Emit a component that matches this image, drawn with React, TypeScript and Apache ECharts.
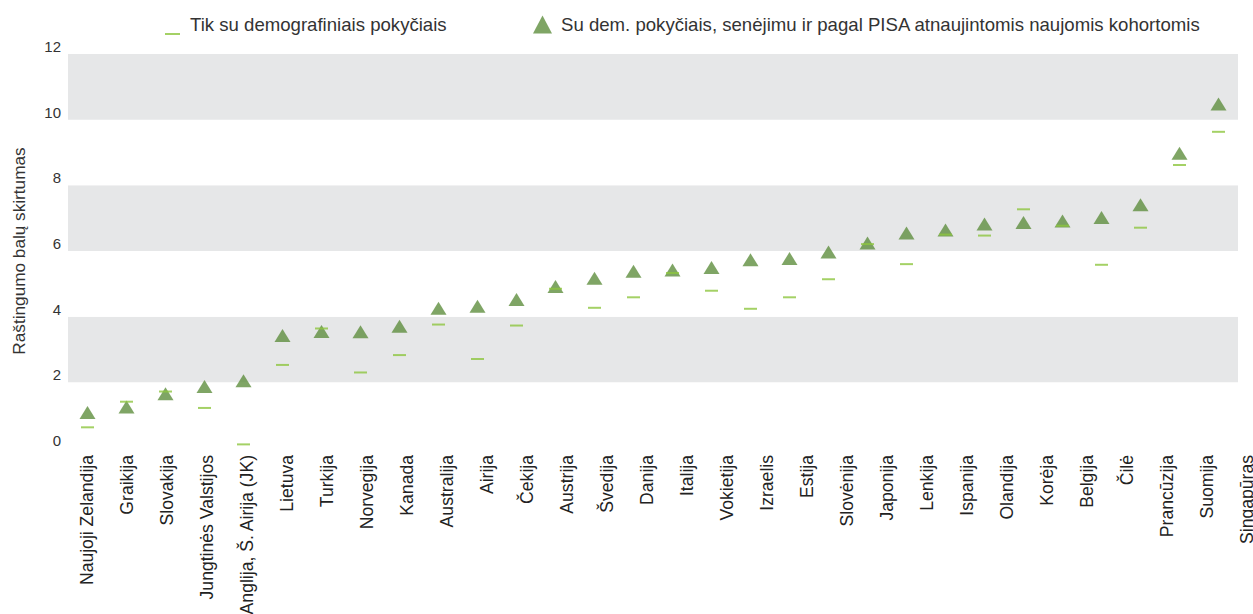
import React, { useEffect, useRef } from "react";
import * as echarts from "echarts";

const categories = [
  "Naujoji Zelandija",
  "Graikija",
  "Slovakija",
  "Jungtinės Valstijos",
  "Anglija, Š. Airija (JK)",
  "Lietuva",
  "Turkija",
  "Norvegija",
  "Kanada",
  "Australija",
  "Airija",
  "Čekija",
  "Austrija",
  "Švedija",
  "Danija",
  "Italija",
  "Vokietija",
  "Izraelis",
  "Estija",
  "Slovėnija",
  "Japonija",
  "Lenkija",
  "Ispanija",
  "Olandija",
  "Korėja",
  "Belgija",
  "Čilė",
  "Prancūzija",
  "Suomija",
  "Singapūras",
];

// "Su dem. pokyčiais, senėjimu ir pagal PISA atnaujintomis naujomis kohortomis"
const fullModel = [
  1.08, 1.25, 1.65, 1.87, 2.05, 3.43, 3.55, 3.54, 3.71, 4.26, 4.32, 4.52, 4.92,
  5.17, 5.38, 5.42, 5.5, 5.73, 5.77, 5.97, 6.24, 6.55, 6.64, 6.82, 6.87, 6.91,
  7.02, 7.41, 8.98, 10.48,
];

// "Tik su demografiniais pokyčiais"
const demographicOnly = [
  0.63, 1.41, 1.72, 1.22, 0.11, 2.53, 3.64, 2.3, 2.83, 3.76, 2.71, 3.73, 4.85,
  4.27, 4.59, 5.33, 4.79, 4.24, 4.59, 5.14, 6.21, 5.6, 6.5, 6.47, 7.27, 6.77,
  5.58, 6.71, 8.62, 9.63,
];

const yMin = 0;
const yMax = 12;
const yInterval = 2;

const nameDemo = "Tik su demografiniais pokyčiais";
const nameFull =
  "Su dem. pokyčiais, senėjimu ir pagal PISA atnaujintomis naujomis kohortomis";

const FONT = "'Liberation Sans', Arial, sans-serif";

export default function App() {
  const ref = useRef<HTMLDivElement>(null);

  useEffect(() => {
    document.body.style.margin = "0";
    if (!ref.current) return;
    const chart = echarts.init(ref.current, undefined, { renderer: "svg" });
    chart.setOption({
      animation: false,
      backgroundColor: "#ffffff",
      textStyle: { fontFamily: FONT },
      grid: [
        { left: 68, right: 15, top: 54, bottom: 166, containLabel: false, outerBoundsMode: "none" },
        { left: 67, width: 1200, top: 54, bottom: 166, containLabel: false, outerBoundsMode: "none" },
      ],
      legend: [
        {
          data: [nameDemo],
          left: 165,
          top: 14,
          padding: 0,
          itemWidth: 15,
          itemHeight: 21,
          icon: "path://M0,0L15,0L15,0L0,0ZM0,19L15,19L15,21L0,21Z",
          textStyle: { fontSize: 18.6, color: "#333", fontFamily: FONT, padding: [0, 0, 0, 5] },
          selectedMode: false,
        },
        {
          data: [nameFull],
          left: 533,
          top: 15,
          padding: 0,
          itemWidth: 19,
          itemHeight: 18,
          icon: "triangle",
          textStyle: { fontSize: 18.6, color: "#333", fontFamily: FONT, padding: [0, 0, 0, 4] },
          selectedMode: false,
        },
      ],
      xAxis: [
        {
          type: "category",
          gridIndex: 0,
          data: categories,
          boundaryGap: true,
          axisLine: { show: false },
          axisTick: { show: false },
          splitLine: { show: false },
          axisLabel: { show: false },
        },
        {
          type: "category",
          gridIndex: 1,
          data: categories,
          boundaryGap: true,
          axisLine: { show: false },
          axisTick: { show: false },
          splitLine: { show: false },
          axisLabel: {
            rotate: 90,
            interval: 0,
            margin: 7,
            fontSize: 17.6,
            color: "#222",
            fontFamily: FONT,
          },
        },
      ],
      yAxis: [
        {
          type: "value",
          gridIndex: 0,
          min: yMin,
          max: yMax,
          interval: yInterval,
          name: "Raštingumo balų skirtumas",
          nameLocation: "middle",
          nameGap: 41,
          nameTextStyle: { fontSize: 17.2, color: "#333", fontFamily: FONT },
          axisLine: { show: false },
          axisTick: { show: false },
          splitLine: { show: false },
          splitArea: {
            show: true,
            areaStyle: { color: ["#ffffff", "#e6e7e8"] },
          },
          axisLabel: {
            fontSize: 15,
            color: "#333",
            margin: 7,
            verticalAlign: "bottom",
            fontFamily: FONT,
          },
        },
        {
          type: "value",
          gridIndex: 1,
          min: yMin,
          max: yMax,
          interval: yInterval,
          show: false,
          splitLine: { show: false },
          splitArea: { show: false },
        },
      ],
      series: [
        {
          name: nameFull,
          type: "scatter",
          xAxisIndex: 0,
          yAxisIndex: 0,
          data: fullModel,
          symbol: "triangle",
          symbolSize: [16, 13],
          itemStyle: { color: "#5f8f3f" },
          z: 2,
        },
        {
          name: nameDemo,
          type: "scatter",
          xAxisIndex: 0,
          yAxisIndex: 0,
          data: demographicOnly,
          symbol: "rect",
          symbolSize: [13, 2],
          itemStyle: { color: "#8dc63f" },
          z: 3,
        },
      ],
    });
    return () => chart.dispose();
  }, []);

  return <div ref={ref} style={{ width: 1253, height: 614 }} />;
}
